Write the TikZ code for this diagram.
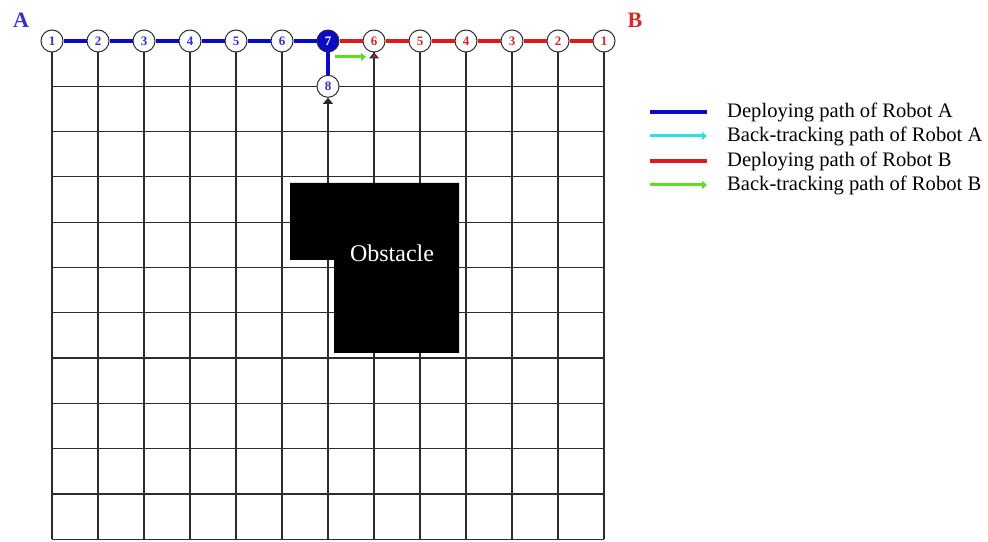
\documentclass[tikz,border=0pt]{standalone}
\usepackage{fontspec}
\setmainfont{Liberation Serif}
\usetikzlibrary{arrows.meta,positioning}
\definecolor{rbBlue}{RGB}{10,10,200}
\definecolor{rbRed}{RGB}{225,25,25}
\definecolor{rbCyan}{RGB}{45,225,225}
\definecolor{rbGreen}{RGB}{90,225,30}
\definecolor{rbNumA}{RGB}{50,50,200}
\definecolor{rbNumB}{RGB}{215,40,40}
\definecolor{rbNavy}{RGB}{20,20,110}
\definecolor{rbGrid}{RGB}{45,45,45}
\tikzset{
  gridline/.style={draw=rbGrid,line width=1.2pt},
  stopA/.style={circle,draw=rbGrid,fill=white,line width=1pt,minimum size=22pt,
    inner sep=0pt,text=rbNumA,font=\fontsize{13}{13}\selectfont\bfseries},
  stopB/.style={stopA,text=rbNumB},
  pathA/.style={draw=rbBlue,line width=3.5pt},
  pathB/.style={draw=rbRed,line width=3.5pt},
  backA/.style={draw=rbCyan,line width=3pt,-{Triangle[length=5pt,width=8pt]}},
  backB/.style={draw=rbGreen,line width=3pt,-{Triangle[length=5pt,width=8pt]}},
  legendtext/.style={anchor=base west,inner sep=0pt,font=\fontsize{20.6}{24}\selectfont}
}

\begin{document}
\begin{tikzpicture}[x=1pt,y=1pt]
  \useasboundingbox (0,0) rectangle (988,541);
  % grid rows
  \foreach \j in {1,...,11}
    \draw[gridline] (52,{500-45.3*\j}) -- (604,{500-45.3*\j});
  % robot stops
  \foreach \k in {1,...,6}
    \node[stopA] (a\k) at ({52+46*(\k-1)},500) {\k};
  \node[stopA,fill=rbBlue,text=white] (a7) at (328,500) {7};
  \node[stopA] (a8) at (328,454.7) {8};
  \foreach \k in {1,...,6}
    \node[stopB] (b\k) at ({604-46*(\k-1)},500) {\k};
  % grid columns
  \foreach \k in {1,...,6}{
    \draw[gridline] (a\k.south) -- (a\k.south |- 0,1.7);
    \draw[gridline] (b\k.south) -- (b\k.south |- 0,1.7);
  }
  \coordinate (colA) at (328,1.7);
  \coordinate (colB) at (374,1.7);
  \draw[gridline,-{Triangle[length=6pt,width=10pt,fill=rbNavy]}] (colA) -- (a8.south);
  \draw[gridline,-{Triangle[length=6pt,width=10pt,fill=rbRed]}] (colB) -- (b6.south);
  % obstacle
  \fill (290,358) -- (459,358) -- (459,188) -- (334,188) -- (334,281) -- (290,281) -- cycle;
  \node[text=white,font=\fontsize{24}{26}\selectfont] (obs) at (392,288) {Obstacle};
  % paths
  \draw[pathA] (a1) -- (a2) -- (a3) -- (a4) -- (a5) -- (a6) -- (a7) -- (a8);
  \draw[pathB] (a7) -- (b6) -- (b5) -- (b4) -- (b3) -- (b2) -- (b1);
  \draw[backB] ([shift={(7,-16)}]a7.center) -- ([shift={(-8,-16)}]b6.center);
  % robot names
  \node[text=rbNumA,font=\fontsize{22}{22}\selectfont\bfseries] (nameA) at (21,521) {A};
  \node[text=rbNumB,font=\fontsize{22}{22}\selectfont\bfseries] (nameB) at (635,521) {B};
  % legend
  \node[legendtext] (l1) at (727,423) {Deploying path of Robot A};
  \node[legendtext] (l2) at (727,399) {Back-tracking path of Robot A};
  \node[legendtext] (l3) at (727,374) {Deploying path of Robot B};
  \node[legendtext] (l4) at (727,350) {Back-tracking path of Robot B};
  \draw[pathA] ([shift={(-77,6)}]l1.base west) -- ([shift={(-20,6)}]l1.base west);
  \draw[backA] ([shift={(-77,6)}]l2.base west) -- ([shift={(-20,6)}]l2.base west);
  \draw[pathB] ([shift={(-77,6)}]l3.base west) -- ([shift={(-20,6)}]l3.base west);
  \draw[backB] ([shift={(-77,6)}]l4.base west) -- ([shift={(-20,6)}]l4.base west);
\end{tikzpicture}
\end{document}
